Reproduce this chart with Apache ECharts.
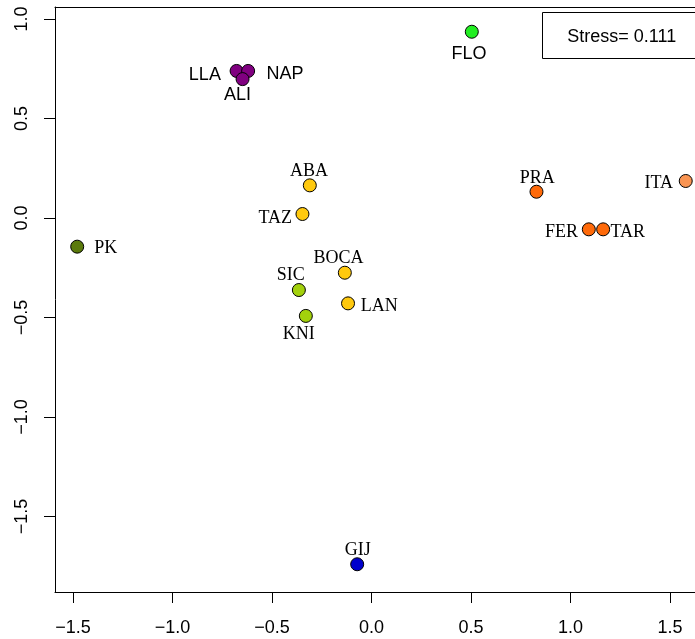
<!DOCTYPE html>
<html>
<head>
<meta charset="utf-8">
<script src="https://cdn.jsdelivr.net/npm/echarts@6/dist/echarts.min.js"></script>
<style>
html,body{margin:0;padding:0;background:#fff;}
#chart{width:695px;height:639px;}
</style>
</head>
<body>
<div id="chart"></div>
<script>
// ---- data ----
var names = ['PK','LLA','NAP','ALI','ABA','TAZ','BOCA','SIC','KNI','LAN','FLO','PRA','FER','TAR','ITA','GIJ'];
var xs = [-1.479,-0.678,-0.620,-0.648,-0.310,-0.347,-0.134,-0.365,-0.330,-0.118,0.504,0.829,1.092,1.164,1.579,-0.072];
var ys = [-0.144,0.739,0.739,0.698,0.164,0.020,-0.275,-0.362,-0.492,-0.429,0.936,0.132,-0.057,-0.057,0.186,-1.740];
var groups = ['pk','ali','ali','ali','yel','yel','yel','sic','sic','yel','flo','fer','fer','fer','ita','gij'];
var xTicks = [-1.5,-1.0,-0.5,0.0,0.5,1.0,1.5];
var yTicks = [-1.5,-1.0,-0.5,0.0,0.5,1.0];
var stressText = 'Stress= 0.111';

// ---- styles ----
var groupColor = {pk:'#5b7a0c', ali:'#800080', yel:'#ffc90e', sic:'#a3d10c', flo:'#22ee22', fer:'#ff6a0a', ita:'#f99452', gij:'#0000cc'};
var sansNames = {LLA:1, NAP:1, ALI:1, FLO:1};
var labelSpec = {
  PK:['left',17,2], LLA:['right',-15.7,4], NAP:['left',18.4,2.7], ALI:['center',-5,15.7],
  ABA:['center',-0.7,-13.8], TAZ:['right',-10.4,3.8], BOCA:['center',-6.3,-14.9], SIC:['center',-8.2,-15],
  KNI:['center',-7.2,18.5], LAN:['left',12.7,3.2], FLO:['center',-2.7,22.3], PRA:['center',0.8,-13],
  FER:['right',-10.7,3], TAR:['left',7.3,3], ITA:['right',-12.7,2.7], GIJ:['center',0.5,-14]
};

function fmt(v){ return v.toFixed(1).replace('-', '\u2212'); }

var data = names.map(function(n,i){
  var s = labelSpec[n];
  return {
    name: n,
    value: [xs[i], ys[i]],
    itemStyle: {color: groupColor[groups[i]]},
    label: {
      show: true, position: 'inside', align: s[0], verticalAlign: 'middle',
      offset: [s[1], s[2]], formatter: n,
      fontFamily: sansNames[n] ? 'Liberation Sans' : 'Liberation Serif',
      fontSize: 18, color: '#000'
    }
  };
});

var XMIN = -1.5905, XMAX = 1.6256, YMIN = -1.8794, YMAX = 1.0603;

var chart = echarts.init(document.getElementById('chart'), null, {renderer:'canvas'});
chart.setOption({
  animation: false,
  backgroundColor: '#fff',
  grid: {left: 55, top: 7, right: 0, bottom: 47, show: false},
  xAxis: [{
    type: 'value', min: XMIN, max: XMAX, position: 'bottom',
    splitLine: {show: false},
    axisLine: {show: true, onZero: false, lineStyle: {color: '#000', width: 1}},
    axisTick: {show: true, length: 11, customValues: xTicks, lineStyle: {color: '#000'}},
    axisLabel: {customValues: xTicks, formatter: fmt, fontFamily: 'Liberation Sans', fontSize: 18, color: '#000', margin: 27}
  }, {
    type: 'value', min: XMIN, max: XMAX, position: 'top',
    splitLine: {show: false},
    axisLine: {show: true, onZero: false, lineStyle: {color: '#000', width: 1}},
    axisTick: {show: false}, axisLabel: {show: false}
  }],
  yAxis: {
    type: 'value', min: YMIN, max: YMAX, position: 'left',
    splitLine: {show: false},
    axisLine: {show: true, onZero: false, lineStyle: {color: '#000', width: 1}},
    axisTick: {show: true, length: 11, customValues: yTicks, lineStyle: {color: '#000'}},
    axisLabel: {customValues: yTicks, formatter: fmt, rotate: 90, fontFamily: 'Liberation Sans', fontSize: 18, color: '#000', margin: 24}
  },
  series: [{
    type: 'scatter',
    symbol: 'circle',
    symbolSize: 13,
    itemStyle: {borderColor: '#000', borderWidth: 1, opacity: 1},
    emphasis: {disabled: true},
    data: data
  }],
  graphic: [
    {type: 'rect', shape: {x: 542.5, y: 12.5, width: 170, height: 46}, style: {fill: '#fff', stroke: '#000', lineWidth: 1}, z: 100},
    {type: 'text', x: 621.7, y: 37.5, style: {text: stressText, font: '18px "Liberation Sans"', fill: '#000', align: 'center', verticalAlign: 'middle'}, z: 101}
  ]
});
</script>
</body>
</html>
